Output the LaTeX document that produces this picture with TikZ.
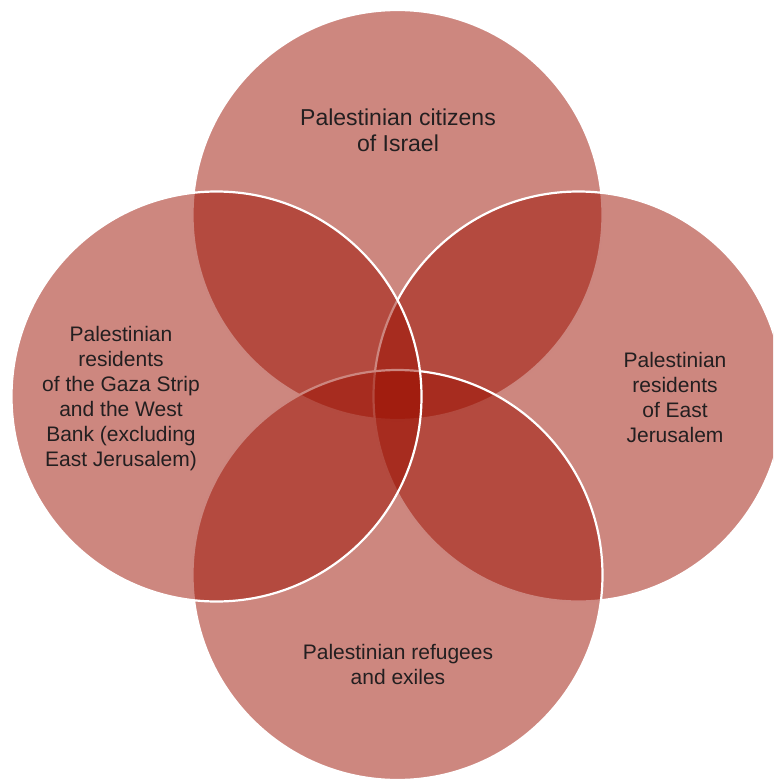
\documentclass[tikz,border=0pt]{standalone}
\usepackage{fontspec}
\setmainfont{Liberation Sans}
\usepackage{tikz}
\usetikzlibrary{shapes}
\definecolor{vennred}{RGB}{155,15,0}
\definecolor{labelgrey}{RGB}{35,31,32}
\tikzstyle{setcircle}=[circle,fill=vennred,fill opacity=0.5,draw=white,line width=2.2pt,minimum size=410pt,inner sep=0pt]
\tikzstyle{setlabel}=[align=center,text=labelgrey,inner sep=0pt,font=\fontsize{21}{25}\selectfont]
\tikzstyle{biglabel}=[setlabel,font=\fontsize{23}{26}\selectfont]
\begin{document}
\begin{tikzpicture}[x=1pt,y=-1pt]

    \useasboundingbox (0,0) rectangle (773,781);
    \clip (0,0) rectangle (773,781);

    % the four groups, drawn clockwise from the top
    \foreach \pos/ \name in {{(397.5,215)/israel},{(578.5,396.5)/jerusalem},{(397.5,575)/refugees},{(216.5,396.5)/gazawb}}
        \node[setcircle] (\name) at \pos {};

    \node[biglabel] (israeltext) at (398,130) {Palestinian citizens\\of Israel};
    \node[setlabel] (gazawbtext) at (121,399) {Palestinian\\residents\\of the Gaza Strip\\and the West\\Bank (excluding\\East Jerusalem)};
    \node[setlabel] (jerusalemtext) at (675,397) {Palestinian\\residents\\of East\\Jerusalem};
    \node[setlabel] (refugeestext) at (398,664.5) {Palestinian refugees\\and exiles};

\end{tikzpicture}
\end{document}
